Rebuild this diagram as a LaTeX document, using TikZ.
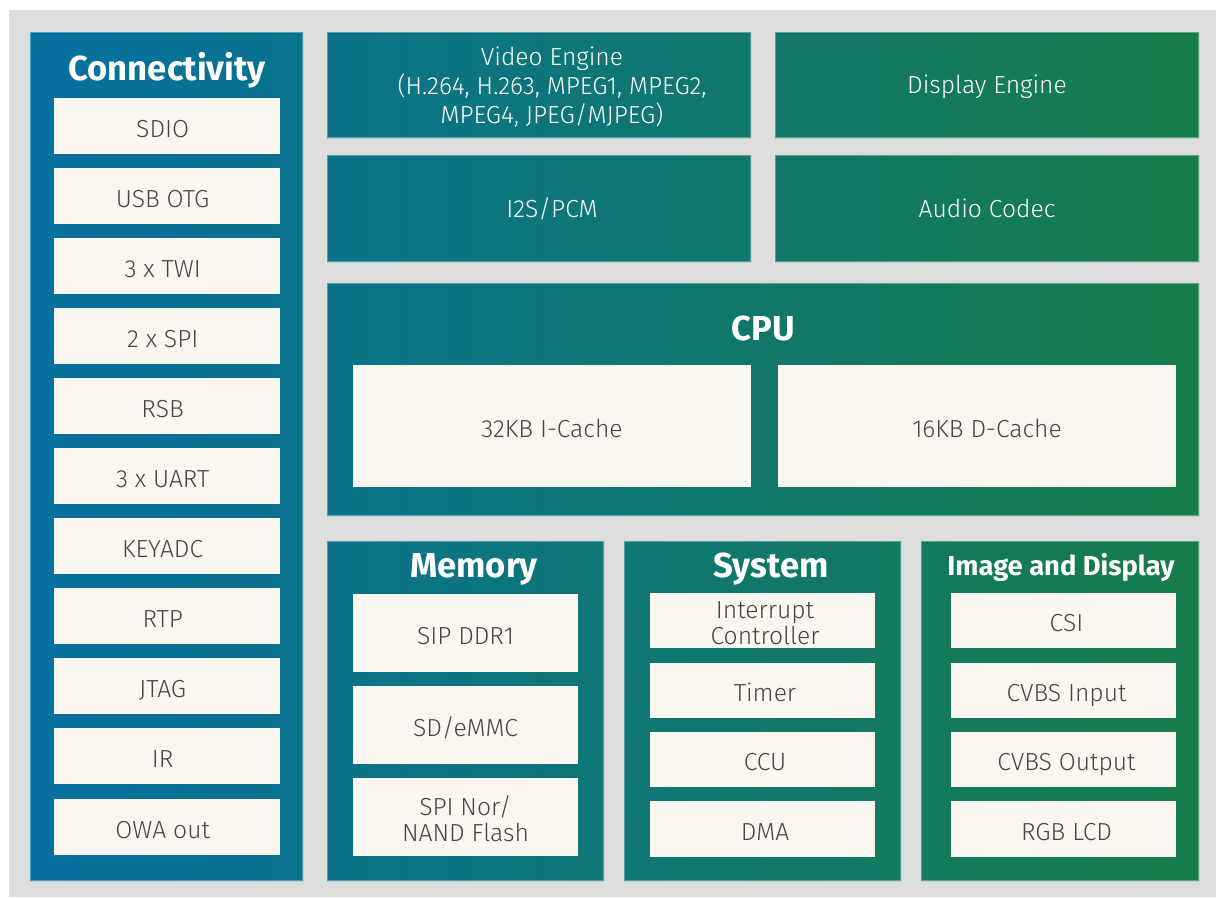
\documentclass[tikz,border=0pt]{standalone}
\usepackage{fontspec}
\setmainfont{Fira Sans}
\newfontfamily\lightfont{Fira Sans Light}
\definecolor{bggray}{HTML}{DCDDDD}
\definecolor{cblue}{HTML}{0670A0}
\definecolor{cgreen}{HTML}{177C4A}
\definecolor{cream}{HTML}{FBF7F0}
\definecolor{txt}{HTML}{454545}
\begin{document}
\begin{tikzpicture}[x=0.75pt,y=-0.75pt,
  box/.style n args={4}{minimum width={(#3-#1)*0.75pt}, minimum height={(#4-#2)*0.75pt},
    at={({(#1+#3)/2},{(#2+#4)/2})}},
  panel/.style={inner sep=0pt, outer sep=0pt, draw=none},
  edge/.style={draw=white, draw opacity=0.3, line width=0.75pt},
  item/.style={inner sep=0pt, outer sep=0pt, fill=cream, text=txt, align=center,
    text height=18pt, text depth=1pt,
    font=\lightfont\fontsize{18.5}{19.5}\selectfont},
  tx/.style={execute at begin node={\hspace*{#1}}},
  twoline/.style={text height=37.5pt, text depth=1pt},
  ptext/.style={inner sep=0pt, text=white, align=center, text height=15pt, text depth=2pt,
    font=\lightfont\fontsize{18.5}{21.75}\selectfont},
  threeline/.style={text height=58.8pt, text depth=1pt},
  title/.style={inner sep=0pt, anchor=base, text=white, font=\bfseries\fontsize{26}{30}\selectfont},
  smalltitle/.style={title, font=\bfseries\fontsize{20.5}{24}\selectfont}]
\useasboundingbox (0,0) rectangle (1216,897);
\fill[bggray] (9,10) rectangle (1216,897);
% panels
\node[panel, box={30}{32}{303}{881}] (conn) {};
\node[panel, box={327}{32}{751}{138}] (video) {};
\node[panel, box={775}{32}{1199}{138}] (disp) {};
\node[panel, box={327}{155}{751}{262}] (i2s) {};
\node[panel, box={775}{155}{1199}{262}] (audio) {};
\node[panel, box={327}{283}{1199}{516}] (cpu) {};
\node[panel, box={327}{541}{604}{881}] (mem) {};
\node[panel, box={624}{541}{901}{881}] (sys) {};
\node[panel, box={921}{541}{1199}{881}] (img) {};
\begin{scope}
  \clip (conn.north west) rectangle (conn.south east)
        (video.north west) rectangle (video.south east)
        (disp.north west) rectangle (disp.south east)
        (i2s.north west) rectangle (i2s.south east)
        (audio.north west) rectangle (audio.south east)
        (cpu.north west) rectangle (cpu.south east)
        (mem.north west) rectangle (mem.south east)
        (sys.north west) rectangle (sys.south east)
        (img.north west) rectangle (img.south east);
  \shade[left color=cblue, right color=cgreen] (30,32) rectangle (1199,881);
\end{scope}
\foreach \p in {conn,video,disp,i2s,audio,cpu,mem,sys,img}
  \draw[edge] ([shift={(0.5,0.5)}]\p.north west) rectangle ([shift={(-0.5,-0.5)}]\p.south east);
% panel texts
\node[ptext, threeline] (videot) at ([xshift=9.75pt]video.center) {Video Engine\\(H.264, H.263, MPEG1, MPEG2,\\MPEG4, JPEG/MJPEG)};
\node[ptext] (dispt) at (disp.center) {Display Engine};
\node[ptext] (i2st) at ([xshift=9.75pt]i2s.center) {I2S/PCM};
\node[ptext] (audiot) at (audio.center) {Audio Codec};
% titles
\node[title] (connt) at (167,80) {Connectivity};
\node[title] (cput) at (763,340) {CPU};
\node[title] (memt) at (474,577) {Memory};
\node[title] (syst) at (771,577) {System};
\node[smalltitle] (imgt) at (1061,575) {Image and Display};
% connectivity items
\begin{scope}[every node/.append style={tx=-6.5pt}]
\node[item, box={54}{98}{280}{154}] (sdio) {SDIO};
\node[item, box={54}{168}{280}{224}] (usb) {USB OTG};
\node[item, box={54}{238}{280}{294}] (twi) {3 x TWI};
\node[item, box={54}{308}{280}{364}] (spi) {2 x SPI};
\node[item, box={54}{378}{280}{434}] (rsb) {RSB};
\node[item, box={54}{448}{280}{504}] (uart) {3 x UART};
\node[item, box={54}{518}{280}{574}] (keyadc) {KEYADC};
\node[item, box={54}{588}{280}{644}] (rtp) {RTP};
\node[item, box={54}{658}{280}{714}] (jtag) {JTAG};
\node[item, box={54}{728}{280}{784}] (ir) {IR};
\node[item, box={54}{799}{280}{855}] (owa) {OWA out};
\end{scope}
% cpu caches
\node[item, box={353}{365}{751}{487}] (icache) {32KB I-Cache};
\node[item, tx=15pt, box={778}{365}{1176}{487}] (dcache) {16KB D-Cache};
% memory
\node[item, box={353}{594}{578}{672}] (ddr) {SIP DDR1};
\node[item, box={353}{686}{578}{764}] (emmc) {SD/eMMC};
\node[item, twoline, box={353}{778}{578}{856}] (nor) {SPI Nor/\\NAND Flash};
% system
\node[item, twoline, box={650}{593}{875}{648}] (intc) {\hspace*{3.75pt}Interrupt\\\hspace*{3.75pt}Controller};
\node[item, tx=3.75pt, box={650}{663}{875}{718}] (timer) {Timer};
\node[item, tx=3.75pt, box={650}{732}{875}{787}] (ccu) {CCU};
\node[item, tx=3.75pt, box={650}{801}{875}{857}] (dma) {DMA};
% image and display
\node[item, tx=4.5pt, box={951}{593}{1176}{648}] (csi) {CSI};
\node[item, tx=4.5pt, box={951}{663}{1176}{718}] (cvbsin) {CVBS Input};
\node[item, tx=4.5pt, box={951}{732}{1176}{787}] (cvbsout) {CVBS Output};
\node[item, tx=4.5pt, box={951}{801}{1176}{857}] (rgb) {RGB LCD};
\end{tikzpicture}
\end{document}
